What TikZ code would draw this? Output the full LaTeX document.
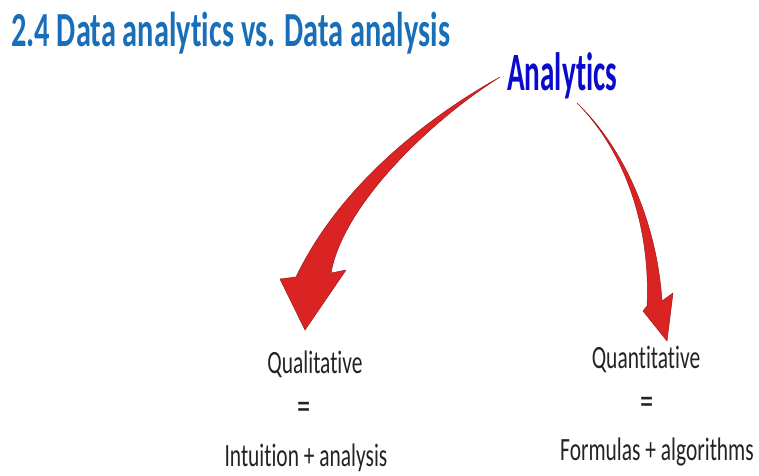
\documentclass[tikz,border=0pt]{standalone}
\usepackage{fontspec}
\usepackage{tikz}
\usetikzlibrary{arrows, arrows.meta}
\newfontfamily\slidefont[FakeStretch=0.66, Ligatures=NoCommon]{Carlito}
\newfontfamily\headfont[FakeStretch=0.62, Ligatures=NoCommon]{Carlito}
\newfontfamily\anafont[FakeStretch=0.54, Ligatures=NoCommon]{Carlito}
\definecolor{titleblue}{RGB}{25,110,185}
\definecolor{anablue}{RGB}{10,10,205}
\definecolor{arrowred}{RGB}{218,36,36}
\definecolor{arrowedge}{RGB}{160,25,25}
\definecolor{bodygray}{RGB}{35,35,35}

\begin{document}
\begin{tikzpicture}[x=1pt,y=-1pt]
\tikzstyle{every node}+=[inner sep=0pt]
\tikzstyle{body}=[font=\slidefont\fontsize{32.5}{32.5}\selectfont, text=bodygray, anchor=base]
\tikzstyle{eqsign}=[font=\slidefont\fontsize{40}{40}\selectfont, text=bodygray, anchor=base]
\tikzstyle{arrowbody}=[fill=arrowred, draw=arrowedge, line width=0.5pt, line join=round]
\useasboundingbox (0,0) rectangle (759,475);
\node [anchor=base west, text=titleblue, font=\headfont\bfseries\fontsize{49}{49}\selectfont] (title) at (11,46) {2.4 Data analytics vs. Data analysis};
\node [anchor=base west, text=anablue, font=\anafont\bfseries\fontsize{54}{54}\selectfont] (ana) at (507,90) {Analytics};
\coordinate (lstart) at (500,77);
\coordinate (ltip) at (305,330);
\draw [arrowbody] (lstart) .. controls (428,117) and (340,185) .. (296,277) -- (280,279) -- (ltip) -- (346,270) -- (331,273) .. controls (343,205) and (430,121) .. (lstart) -- cycle;
\coordinate (rstart) at (577,103);
\coordinate (rtip) at (667,341);
\draw [arrowbody] (rstart) .. controls (622,148) and (651,222) .. (647,306) -- (643,311) -- (rtip) -- (673,293) -- (662,301) .. controls (657,225) and (626,150) .. (rstart) -- cycle;
\node [body] (qual) at (315,373) {Qualitative};
\node [eqsign] (qualeq) at (304,419) {=};
\node [body] (qualdef) at (306,466) {Intuition + analysis};
\node [body] (quan) at (646,368) {Quantitative};
\node [eqsign] (quaneq) at (647,414) {=};
\node [body] (quandef) at (657,460) {Formulas + algorithms};
\end{tikzpicture}
\end{document}
